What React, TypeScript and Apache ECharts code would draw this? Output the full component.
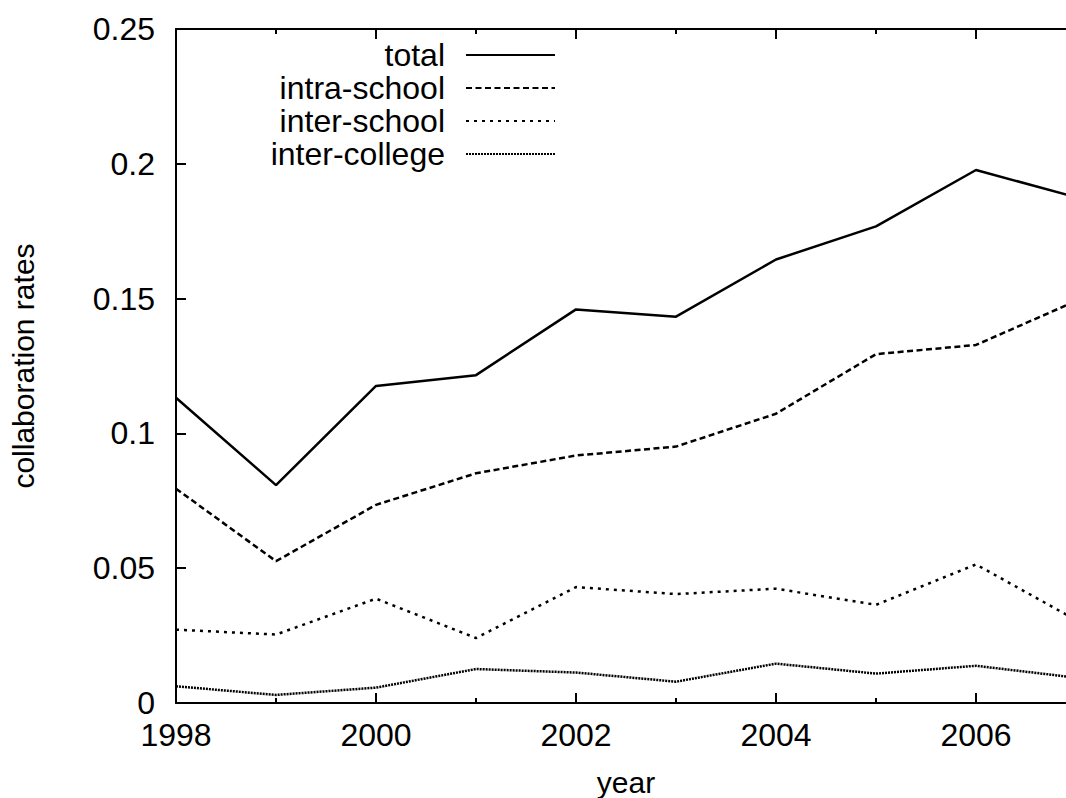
import React, { useEffect, useRef } from "react";
import * as echarts from "echarts";

const years = [1998, 1999, 2000, 2001, 2002, 2003, 2004, 2005, 2006, 2007];
const total = [0.1132, 0.0808, 0.1176, 0.1216, 0.146, 0.1433, 0.1645, 0.1768, 0.1977, 0.1876];
const intraSchool = [0.0795, 0.0526, 0.0735, 0.0852, 0.0918, 0.0951, 0.1073, 0.1294, 0.1328, 0.1491];
const interSchool = [0.0272, 0.0254, 0.0387, 0.0241, 0.043, 0.0404, 0.0424, 0.0364, 0.0514, 0.0308];
const interCollege = [0.0062, 0.003, 0.0057, 0.0126, 0.0113, 0.0079, 0.0146, 0.0109, 0.0138, 0.0094];
const seriesNames = ["total", "intra-school", "inter-school", "inter-college"];
const yTicks = [0, 0.05, 0.1, 0.15, 0.2, 0.25];

const FONT = "Liberation Sans";

export default function App() {
  const ref = useRef<HTMLDivElement>(null);
  useEffect(() => {
    if (!ref.current) return;
    const chart = echarts.init(ref.current, undefined, { renderer: "svg" });
    const pair = (vals: number[]) => years.map((y, i) => [y, vals[i]]);
    const dashes: (number[] | "solid")[] = ["solid", [6, 3.5], [3, 5], [2, 1]];
    const all = [total, intraSchool, interSchool, interCollege];
    const axisLine = { show: true, onZero: false, lineStyle: { color: "#000", width: 2 } };
    const xCommon = {
      type: "value" as const,
      min: years[0],
      max: years[years.length - 1],
      interval: 2,
      axisLine,
      axisTick: { show: true, inside: true, length: 10, lineStyle: { color: "#000", width: 2 } },
      minorTick: { show: true, splitNumber: 2, length: 5, lineStyle: { color: "#000", width: 2 } },
      splitLine: { show: false },
      minorSplitLine: { show: false },
    };
    chart.setOption({
      animation: false,
      backgroundColor: "#fff",
      grid: { left: 176, right: 4, top: 29, bottom: 95, containLabel: false, outerBoundsMode: "none" },
      legend: {
        data: seriesNames,
        orient: "vertical",
        align: "right",
        right: 524,
        top: 39,
        padding: 0,
        itemWidth: 89,
        itemHeight: 14,
        itemGap: 1,
        itemStyle: { opacity: 0 },
        textStyle: {
          fontFamily: FONT,
          fontSize: 32,
          color: "#000",
          lineHeight: 32,
          padding: [0, 16, 0, 0],
        },
      },
      xAxis: [
        {
          ...xCommon,
          position: "bottom",
          name: "year",
          nameLocation: "middle",
          nameGap: 64,
          nameTextStyle: { fontFamily: FONT, fontSize: 30, color: "#000" },
          axisLabel: {
            show: true,
            margin: 16,
            fontFamily: FONT,
            fontSize: 32,
            color: "#000",
            formatter: (v: number) => (v % 2 === 0 ? String(v) : ""),
          },
        },
        { ...xCommon, position: "top", axisLabel: { show: false } },
      ],
      yAxis: [
        {
          type: "value",
          min: yTicks[0],
          max: yTicks[yTicks.length - 1],
          interval: 0.05,
          position: "left",
          name: "collaboration rates",
          nameLocation: "middle",
          nameGap: 138,
          nameTextStyle: { fontFamily: FONT, fontSize: 30, color: "#000" },
          axisLine,
          axisTick: { show: true, inside: true, length: 10, lineStyle: { color: "#000", width: 2 } },
          splitLine: { show: false },
          axisLabel: {
            margin: 21,
            fontFamily: FONT,
            fontSize: 32,
            color: "#000",
            formatter: (v: number) => String(Math.round(v * 100) / 100),
          },
        },
        {
          type: "value",
          min: yTicks[0],
          max: yTicks[yTicks.length - 1],
          interval: 0.05,
          position: "right",
          axisLine,
          axisTick: { show: true, inside: true, length: 10, lineStyle: { color: "#000", width: 2 } },
          splitLine: { show: false },
          axisLabel: { show: false },
        },
      ],
      series: seriesNames.map((name, i) => ({
        name,
        type: "line",
        xAxisIndex: 0,
        yAxisIndex: 0,
        data: pair(all[i]),
        symbol: "none",
        showSymbol: false,
        lineStyle: { color: "#000", width: 2.5, type: dashes[i] },
        itemStyle: { color: "#000" },
      })),
    });
    return () => chart.dispose();
  }, []);
  return (
    <div style={{ position: "fixed", left: 0, top: 0, width: 1066, height: 798, overflow: "hidden", background: "#fff" }}>
      <div ref={ref} style={{ width: 1080, height: 798 }} />
    </div>
  );
}
